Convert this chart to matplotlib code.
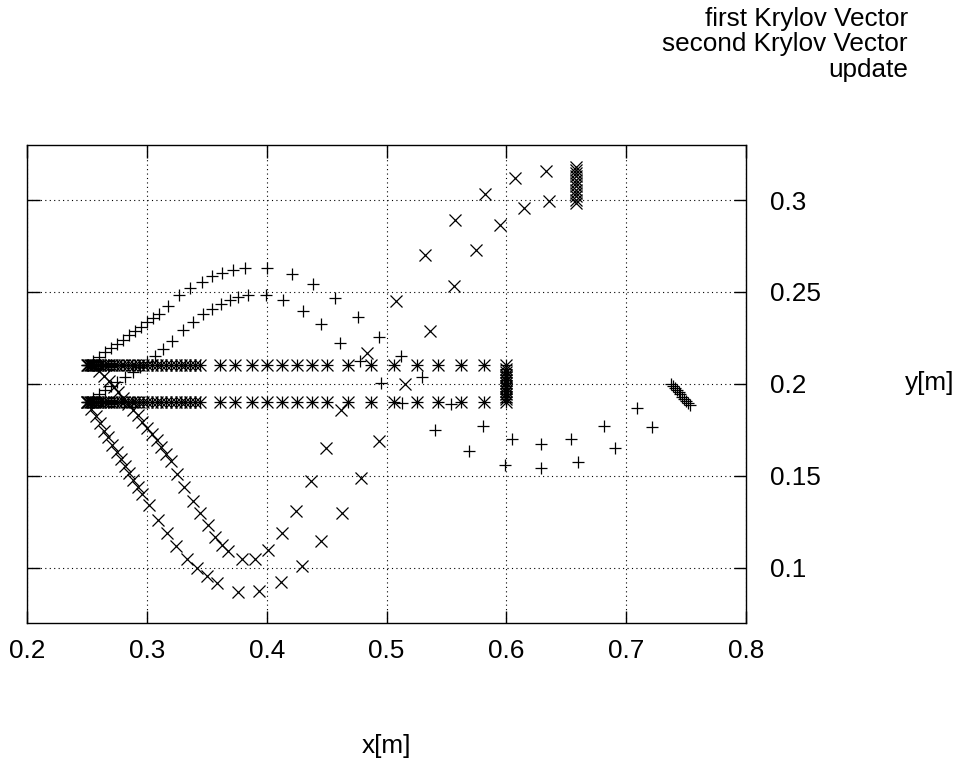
import matplotlib
matplotlib.use("Agg")
import matplotlib.pyplot as plt
from matplotlib.path import Path

plt.rcParams["font.family"] = ["Liberation Sans", "DejaVu Sans"]

# first Krylov Vector (+): two arcs and the end cluster
plus_outer_x = [0.250, 0.255, 0.260, 0.265, 0.270, 0.275, 0.280, 0.285, 0.290, 0.295, 0.300, 0.305,
                0.310, 0.3177, 0.3268, 0.3358, 0.3455, 0.3539, 0.3622, 0.3719, 0.3816, 0.3997, 0.4206,
                0.4387, 0.4567, 0.4762, 0.4935, 0.5116, 0.5291, 0.5541, 0.5802, 0.6045, 0.6292, 0.6542,
                0.6812, 0.7092]
plus_outer_y = [0.2100, 0.2124, 0.2147, 0.2171, 0.2194, 0.2218, 0.2241, 0.2265, 0.2288, 0.2312, 0.2335,
                0.2359, 0.2382, 0.2425, 0.2484, 0.2523, 0.2556, 0.2587, 0.2605, 0.2619, 0.2632, 0.2628,
                0.2599, 0.2542, 0.2466, 0.2366, 0.2255, 0.2150, 0.2036, 0.1889, 0.1771, 0.1698, 0.1670,
                0.1702, 0.1771, 0.1870]
plus_inner_x = [0.250, 0.255, 0.260, 0.265, 0.270, 0.2750, 0.2815, 0.2884, 0.2940, 0.2996, 0.3066,
                0.3135, 0.3205, 0.3302, 0.3380, 0.3463, 0.3539, 0.3616, 0.3691, 0.3761, 0.3844, 0.3989,
                0.4136, 0.4298, 0.4456, 0.4609, 0.4776, 0.4950, 0.5124, 0.5402, 0.5688, 0.5986, 0.6292,
                0.6597, 0.6904, 0.7215]
plus_inner_y = [0.1900, 0.1922, 0.1945, 0.1967, 0.1988, 0.2008, 0.2036, 0.2063, 0.2090, 0.2117, 0.2153,
                0.2190, 0.2235, 0.2292, 0.2337, 0.2379, 0.2406, 0.2433, 0.2457, 0.2473, 0.2482, 0.2484,
                0.2455, 0.2397, 0.2325, 0.2221, 0.2122, 0.2006, 0.1896, 0.1751, 0.1635, 0.1557, 0.1540,
                0.1572, 0.1653, 0.1763]
plus_end_x = [0.7377, 0.7392, 0.7407, 0.7422, 0.7437, 0.7452, 0.7467, 0.7482, 0.7497, 0.7512, 0.7530]
plus_end_y = [0.2000, 0.1989, 0.1977, 0.1966, 0.1954, 0.1943, 0.1931, 0.1920, 0.1908, 0.1896, 0.1884]

# second Krylov Vector (x)
cross_outer_x = [0.2500, 0.2535, 0.2570, 0.2605, 0.2640, 0.2675, 0.2710, 0.2745, 0.2780, 0.2815, 0.2850,
                 0.2885, 0.2920, 0.2955, 0.3012, 0.3093, 0.3163, 0.3241, 0.3330, 0.3413, 0.3497, 0.3580,
                 0.3761, 0.3936, 0.4117, 0.4290, 0.4456, 0.4623, 0.4782, 0.4937, 0.5151, 0.5360, 0.5560,
                 0.5750, 0.5950, 0.6144, 0.6356]
cross_outer_y = [0.1900, 0.1862, 0.1823, 0.1785, 0.1746, 0.1708, 0.1669, 0.1631, 0.1592, 0.1554, 0.1515,
                 0.1477, 0.1438, 0.1400, 0.1341, 0.1260, 0.1187, 0.1115, 0.1047, 0.0998, 0.0952, 0.0917,
                 0.0866, 0.0871, 0.0920, 0.1010, 0.1142, 0.1299, 0.1485, 0.1687, 0.2000, 0.2285, 0.2532,
                 0.2726, 0.2867, 0.2957, 0.2997]
cross_inner_x = [0.2560, 0.2600, 0.2640, 0.2680, 0.2720, 0.2760, 0.2800, 0.2840, 0.2880, 0.2920, 0.2960,
                 0.3000, 0.3040, 0.3080, 0.3120, 0.3160, 0.3200, 0.3247, 0.3310, 0.3380, 0.3441, 0.3510,
                 0.3566, 0.3622, 0.3677, 0.3789, 0.3900, 0.4011, 0.4128, 0.4242, 0.4365, 0.4492, 0.4617,
                 0.4837, 0.5074, 0.5318, 0.5569, 0.5819, 0.6075, 0.6334]
cross_inner_y = [0.2100, 0.2072, 0.2043, 0.2014, 0.1984, 0.1954, 0.1923, 0.1892, 0.1860, 0.1828, 0.1795,
                 0.1762, 0.1728, 0.1692, 0.1655, 0.1617, 0.1578, 0.1512, 0.1440, 0.1364, 0.1296, 0.1232,
                 0.1169, 0.1124, 0.1088, 0.1047, 0.1047, 0.1097, 0.1187, 0.1308, 0.1472, 0.1653, 0.1855,
                 0.2166, 0.2451, 0.2699, 0.2894, 0.3035, 0.3123, 0.3159]
cross_end_x = [0.6584, 0.6584, 0.6584, 0.6584, 0.6584, 0.6584, 0.6584, 0.6584, 0.6584, 0.6584, 0.6584, 0.6584]
cross_end_y = [0.2985, 0.3003, 0.3021, 0.3039, 0.3057, 0.3075, 0.3093, 0.3111, 0.3129, 0.3147, 0.3165, 0.3183]

# update (*): two horizontal rows and a column at x = 0.6
star_row_x = [0.2500, 0.2505, 0.2510, 0.2520, 0.2530, 0.2540, 0.2555, 0.2570, 0.2590, 0.2610, 0.2630,
              0.2650, 0.2675, 0.2700, 0.2725, 0.2750, 0.2780, 0.2810, 0.2840, 0.2870, 0.2900, 0.2930,
              0.2965, 0.3000, 0.3040, 0.3080, 0.3120, 0.3160, 0.3200, 0.3240, 0.3280, 0.3320, 0.3360,
              0.3400, 0.3445, 0.3610, 0.3735, 0.3875, 0.4000, 0.4125, 0.4250, 0.4375, 0.4500, 0.4680,
              0.4870, 0.5060, 0.5250, 0.5430, 0.5620, 0.5810, 0.6000]
star_row_levels = [0.19, 0.21]
star_col_x = [0.6, 0.6, 0.6, 0.6, 0.6, 0.6, 0.6, 0.6, 0.6, 0.6, 0.6, 0.6]
star_col_y = [0.1915, 0.1930, 0.1945, 0.1960, 0.1975, 0.1990, 0.2005, 0.2020, 0.2035, 0.2050, 0.2065, 0.2080]

x_ticks = [0.2, 0.3, 0.4, 0.5, 0.6, 0.7, 0.8]
x_tick_labels = ["0.2", "0.3", "0.4", "0.5", "0.6", "0.7", "0.8"]
y_ticks = [0.1, 0.15, 0.2, 0.25, 0.3]
y_tick_labels = ["0.1", "0.15", "0.2", "0.25", "0.3"]
legend_labels = ["first Krylov Vector", "second Krylov Vector", "update"]

first_x = plus_outer_x + plus_inner_x + plus_end_x
first_y = plus_outer_y + plus_inner_y + plus_end_y
second_x = cross_outer_x + cross_inner_x + cross_end_x
second_y = cross_outer_y + cross_inner_y + cross_end_y
update_x = []
update_y = []
for level in star_row_levels:
    update_x += star_row_x
    update_y += [level] * len(star_row_x)
update_x += star_col_x
update_y += star_col_y

# gnuplot-like star: + and x together
star = Path([(-1, 0), (1, 0), (0, -1), (0, 1), (-1, -1), (1, 1), (-1, 1), (1, -1)],
            [Path.MOVETO, Path.LINETO] * 4)

fs = 18.8

fig = plt.figure(figsize=(9.56, 7.58), dpi=100)
ax = fig.add_axes([0.0286, 0.1785, 0.7517, 0.6302])

kw = dict(linestyle="none", color="black", markersize=8.6, markeredgewidth=0.9)
ax.plot(first_x, first_y, marker="+", **kw)
ax.plot(second_x, second_y, marker="x", **kw)
ax.plot(update_x, update_y, marker=star, **kw)

ax.set_xlim(0.2, 0.8)
ax.set_ylim(0.07, 0.33)
ax.set_xticks(x_ticks)
ax.set_xticklabels(x_tick_labels)
ax.set_yticks(y_ticks)
ax.set_yticklabels(y_tick_labels)
ax.tick_params(axis="both", direction="in", length=9, width=1, labelsize=fs,
               top=True, bottom=True, left=True, right=True)
ax.tick_params(axis="x", pad=12)
ax.tick_params(axis="y", labelleft=False, labelright=True, pad=17)
ax.grid(True, color="black", linestyle=(0, (1, 3)), linewidth=0.8)
for s in ax.spines.values():
    s.set_linewidth(1.0)

fig.text(386.5 / 956, 1 - 746 / 758, "x[m]", ha="center", va="center", fontsize=fs)
fig.text(930 / 956, 1 - 383 / 758, "y[m]", ha="center", va="center", fontsize=fs)

for i, label in enumerate(legend_labels):
    fig.text(908 / 956, 1 - (26 + 25.5 * i) / 758, label, ha="right", va="baseline", fontsize=fs)

fig.savefig("out.png", dpi=100)
